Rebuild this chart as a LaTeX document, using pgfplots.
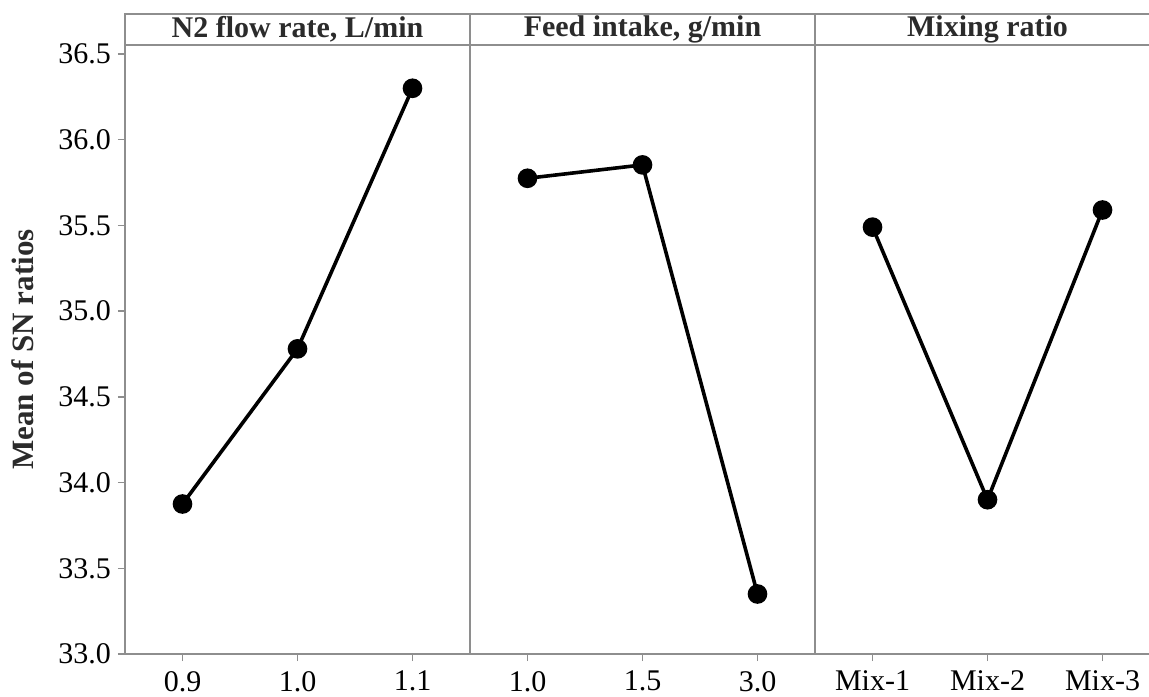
\documentclass[border=0pt]{standalone}
\usepackage{fontspec}
\setmainfont{Liberation Serif}
\usepackage{pgfplots}
\pgfplotsset{compat=1.18}
\definecolor{framegray}{HTML}{8E8E8E}
\definecolor{titletext}{HTML}{2B2B2B}

\pgfplotsset{
  panel/.style={
    scale only axis, width=172.5pt, height=304.5pt,
    xmin=0.5, xmax=3.5, ymin=33, ymax=36.5525,
    xtick={1,2,3},
    axis line style={framegray, line width=0.75pt},
    tick style={framegray, line width=0.75pt},
    tick align=outside, major tick length=3.5pt,
    xtick pos=bottom, ytick pos=left,
    ticklabel style={font=\fontsize{15}{18}\selectfont, text=black},
    xticklabel style={yshift=-1.5pt},
    every axis title shift=0pt,
    title style={at={(0.5,1)}, anchor=south, yshift=0pt, draw=framegray,
      line width=0.75pt, minimum width=172.5pt, minimum height=15.5pt,
      inner sep=0pt, outer sep=0pt, text=titletext,
      font=\fontsize{15}{18}\selectfont\bfseries},
    clip=false,
  },
  fx/.style={black, line width=1.8pt, mark=*, mark size=4pt,
    mark options={solid, fill=black}},
}

\begin{document}
\begin{tikzpicture}
\useasboundingbox (-62.5pt,-21pt) rectangle (512pt,327pt);
\clip (-62.5pt,-21pt) rectangle (512pt,327pt);

\begin{axis}[panel, at={(0pt,0pt)}, anchor=south west,
  title={N2 flow rate, L/min},
  xticklabels={0.9,1.0,1.1},
  ytick={33,33.5,34,34.5,35,35.5,36,36.5},
  yticklabels={33.0,33.5,34.0,34.5,35.0,35.5,36.0,36.5},
  ylabel={Mean of SN ratios},
  ylabel style={at={(axis description cs:-0.296,0.5)}, anchor=center,
    font=\fontsize{15.5}{18}\selectfont\bfseries, text=titletext}]
  \addplot[fx] coordinates {(1,33.875) (2,34.78) (3,36.30)};
\end{axis}

\begin{axis}[panel, at={(172.5pt,0pt)}, anchor=south west,
  title={Feed intake, g/min},
  xticklabels={1.0,1.5,3.0},
  ytick=\empty]
  \addplot[fx] coordinates {(1,35.775) (2,35.853) (3,33.35)};
\end{axis}

\begin{axis}[panel, at={(345pt,0pt)}, anchor=south west,
  title={Mixing ratio},
  xticklabels={Mix-1,Mix-2,Mix-3},
  ytick=\empty]
  \addplot[fx] coordinates {(1,35.49) (2,33.90) (3,35.59)};
\end{axis}
\end{tikzpicture}
\end{document}
